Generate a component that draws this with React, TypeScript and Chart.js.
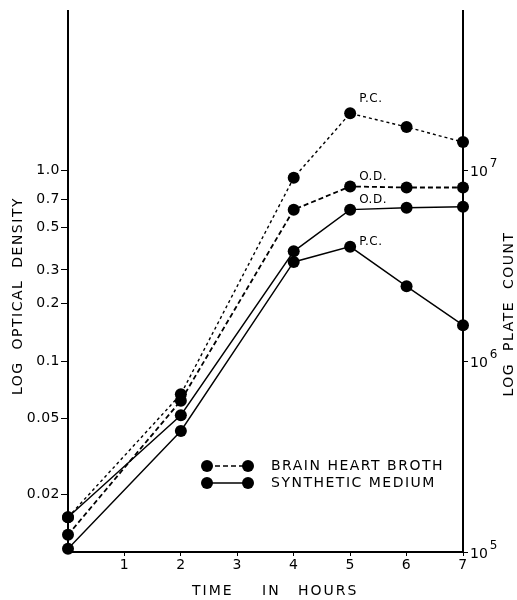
import React, { useEffect, useRef } from "react";
import { Chart, registerables } from "chart.js";

Chart.register(...registerables);

// ---- data ----
const hours = [0, 2, 4, 5, 6, 7];
const bhbPlateCount = [1.52e5, 6.7e5, 9.1e6, 1.98e7, 1.68e7, 1.4e7];
const bhbOpticalDensity = [0.0123, 0.062, 0.62, 0.82, 0.81, 0.81];
const smOpticalDensity = [0.0152, 0.052, 0.375, 0.62, 0.635, 0.642];
const smPlateCount = [1.04e5, 4.3e5, 3.3e6, 3.97e6, 2.46e6, 1.54e6];

const xTicks = [1, 2, 3, 4, 5, 6, 7];
const odTicks = [0.02, 0.05, 0.1, 0.2, 0.3, 0.5, 0.7, 1.0];
const odTickLabels = ["0.02", "0.05", "0.1", "0.2", "0.3", "0.5", "0.7", "1.0"];
const pcExponents = [5, 6, 7];

const seriesLabels = ["BRAIN HEART BROTH", "SYNTHETIC MEDIUM"];
const annotationTexts = ["P.C.", "O.D.", "O.D.", "P.C."];

const FONT = "'DejaVu Sans', sans-serif";

const pts = (ys: number[]) => hours.map((h, i) => ({ x: h, y: ys[i] }));

const overlayPlugin = {
  id: "overlay",
  beforeDraw(chart: any) {
    chart.ctx.letterSpacing = "0.5px";
  },
  afterDraw(chart: any) {
    const ctx = chart.ctx;
    const pc = chart.scales.pc;
    ctx.save();
    ctx.fillStyle = "#000";
    ctx.strokeStyle = "#000";

    // right-axis powers of ten
    ctx.letterSpacing = "0px";
    pcExponents.forEach((e) => {
      const y = pc.getPixelForValue(Math.pow(10, e));
      ctx.font = `14px ${FONT}`;
      ctx.textAlign = "left";
      ctx.textBaseline = "middle";
      ctx.fillText("10", pc.left + 7, y + 2);
      const w = ctx.measureText("10").width;
      ctx.font = `12px ${FONT}`;
      ctx.fillText(String(e), pc.left + 9 + w, y - 6);
    });

    // curve annotations near the 5-hour points
    const offs = [
      [9, -14],
      [9, -10],
      [9, -10],
      [9, -5],
    ];
    ctx.font = `12px ${FONT}`;
    ctx.letterSpacing = "0.5px";
    ctx.textAlign = "left";
    ctx.textBaseline = "middle";
    annotationTexts.forEach((t, i) => {
      const el = chart.getDatasetMeta(i).data[3];
      ctx.fillText(t, el.x + offs[i][0], el.y + offs[i][1]);
    });

    // axis titles
    ctx.font = `14px ${FONT}`;
    ctx.letterSpacing = "1.5px";
    ctx.textAlign = "center";
    ctx.textBaseline = "middle";
    ctx.save();
    ctx.translate(18, 296);
    ctx.rotate(-Math.PI / 2);
    ctx.fillText("LOG  OPTICAL  DENSITY", 0, 0);
    ctx.restore();
    ctx.save();
    ctx.translate(509, 314);
    ctx.rotate(-Math.PI / 2);
    ctx.fillText("LOG  PLATE  COUNT", 0, 0);
    ctx.restore();

    ctx.letterSpacing = "2px";
    ctx.textAlign = "left";
    ctx.fillText("TIME", 192, 591);
    ctx.fillText("IN", 262, 591);
    ctx.fillText("HOURS", 298, 591);

    // legend
    const rows = [
      { y: 466, dash: [5, 3], text: seriesLabels[0] },
      { y: 483, dash: [], text: seriesLabels[1] },
    ];
    rows.forEach((r) => {
      ctx.beginPath();
      ctx.setLineDash(r.dash);
      ctx.lineWidth = 1.5;
      ctx.moveTo(207, r.y);
      ctx.lineTo(248, r.y);
      ctx.stroke();
      ctx.setLineDash([]);
      [207, 248].forEach((cx) => {
        ctx.beginPath();
        ctx.arc(cx, r.y, 6, 0, Math.PI * 2);
        ctx.fill();
      });
      ctx.font = `14px ${FONT}`;
      ctx.letterSpacing = "1.5px";
      ctx.textAlign = "left";
      ctx.textBaseline = "middle";
      ctx.fillText(r.text, 271, r.y);
    });

    ctx.restore();
    ctx.letterSpacing = "0px";
  },
};

export default function App() {
  const canvasRef = useRef<HTMLCanvasElement | null>(null);

  useEffect(() => {
    if (!canvasRef.current) return;
    const common = {
      borderColor: "#000",
      pointRadius: 6,
      pointHoverRadius: 6,
      pointBackgroundColor: "#000",
      pointBorderColor: "#000",
      pointBorderWidth: 0,
      tension: 0,
      clip: false as any,
      fill: false,
    };
    const tickFont = { family: FONT, size: 14 };
    const chart = new Chart(canvasRef.current, {
      type: "line",
      data: {
        datasets: [
          { ...common, label: "BHB P.C.", data: pts(bhbPlateCount), yAxisID: "pc", borderDash: [3, 3], borderWidth: 1.4 },
          { ...common, label: "BHB O.D.", data: pts(bhbOpticalDensity), yAxisID: "od", borderDash: [5, 3], borderWidth: 1.8 },
          { ...common, label: "SM O.D.", data: pts(smOpticalDensity), yAxisID: "od", borderWidth: 1.4 },
          { ...common, label: "SM P.C.", data: pts(smPlateCount), yAxisID: "pc", borderWidth: 1.4 },
        ],
      },
      options: {
        animation: false,
        responsive: false,
        maintainAspectRatio: false,
        devicePixelRatio: 1,
        layout: { padding: { top: 11, left: 0, right: 0, bottom: 0 } },
        plugins: { legend: { display: false }, tooltip: { enabled: false } },
        events: [],
        scales: {
          x: {
            type: "linear",
            position: "bottom",
            min: 0,
            max: 7,
            grid: { drawOnChartArea: false, drawTicks: true, tickLength: 4, color: "#000", lineWidth: 1 },
            border: { display: true, color: "#000", width: 2 },
            ticks: { color: "#000", font: tickFont, padding: 1, maxRotation: 0 },
            afterBuildTicks: (s: any) => {
              s.ticks = xTicks.map((v) => ({ value: v }));
            },
            afterFit: (s: any) => {
              s.height = 48;
            },
          },
          od: {
            type: "logarithmic",
            position: "left",
            min: 0.01,
            max: 6.8,
            grid: { drawOnChartArea: false, drawTicks: true, tickLength: 7, color: "#000", lineWidth: 1 },
            border: { display: true, color: "#000", width: 2 },
            ticks: {
              color: "#000",
              font: tickFont,
              padding: 1,
              callback: (_v: any, i: number) => odTickLabels[i],
            },
            afterBuildTicks: (s: any) => {
              s.ticks = odTicks.map((v) => ({ value: v }));
            },
            afterFit: (s: any) => {
              s.width = 68;
            },
          },
          pc: {
            type: "logarithmic",
            position: "right",
            min: 1e5,
            max: 6.8e7,
            grid: { drawOnChartArea: false, drawTicks: true, tickLength: 5, color: "#000", lineWidth: 1 },
            border: { display: true, color: "#000", width: 2 },
            ticks: { display: false },
            afterBuildTicks: (s: any) => {
              s.ticks = pcExponents.map((e) => ({ value: Math.pow(10, e) }));
            },
            afterFit: (s: any) => {
              s.width = 54;
            },
          },
        },
      } as any,
      plugins: [overlayPlugin],
    });
    return () => chart.destroy();
  }, []);

  return (
    <div style={{ position: "fixed", left: 0, top: 0, width: 517, height: 600, background: "#fff" }}>
      <canvas ref={canvasRef} width={517} height={600} style={{ display: "block" }} />
    </div>
  );
}
